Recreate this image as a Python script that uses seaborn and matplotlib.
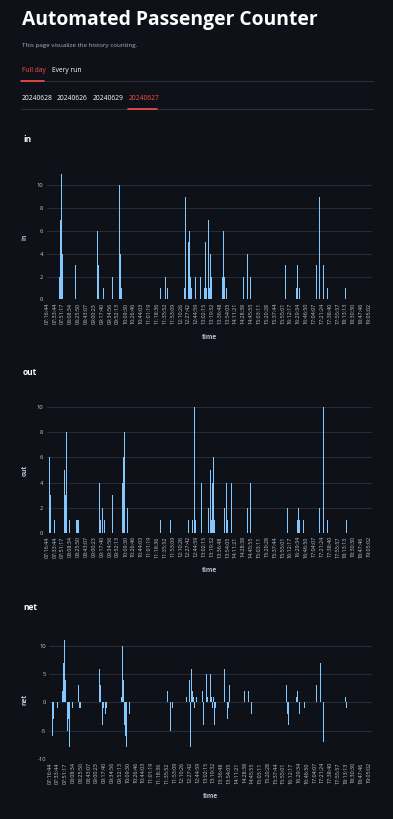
import matplotlib
matplotlib.use("Agg")
import matplotlib.pyplot as plt
import numpy as np
import pandas as pd
import seaborn as sns
from matplotlib.lines import Line2D

# passenger events (time, count)
in_times = ["07:45", "07:47", "07:49", "07:51", "08:18", "09:07", "09:09", "09:20",
            "09:41", "09:55", "09:57", "09:59", "10:01", "11:27", "11:36", "11:41",
            "11:44", "12:18", "12:20", "12:27", "12:30", "12:33", "12:35", "12:42",
            "12:55", "13:02", "13:04", "13:06", "13:13", "13:15", "13:17", "13:19",
            "13:42", "13:44", "13:46", "13:50", "13:54", "14:28", "14:36", "14:45",
            "16:00", "16:24", "16:26", "16:33", "17:09", "17:16", "17:25", "17:32",
            "17:34", "18:12"]
in_vals = [2, 7, 11, 4, 3, 6, 3, 1,
           2, 1, 10, 4, 1, 1, 2, 1,
           1, 1, 9, 5, 6, 2, 1, 2,
           2, 1, 5, 1, 7, 1, 4, 2,
           2, 6, 2, 1, 5, 2, 4, 2,
           3, 1, 3, 1, 3, 9, 3, 1,
           1, 1]

out_times = ["07:22", "07:25", "07:32", "07:54", "07:56", "07:59", "08:07", "08:21",
             "08:23", "08:25", "09:13", "09:15", "09:19", "09:22", "09:41", "10:02",
             "10:04", "10:07", "10:13", "11:27", "11:45", "11:48", "12:26", "12:29",
             "12:37", "12:40", "12:42", "12:56", "13:13", "13:17", "13:19", "13:21",
             "13:23", "13:25", "13:47", "13:51", "13:53", "13:55", "14:02", "14:36",
             "14:45", "16:05", "16:07", "16:26", "16:30", "16:33", "16:41", "17:16",
             "17:25", "17:32", "17:34", "18:14"]
out_vals = [6, 3, 1, 5, 3, 8, 1, 1,
            1, 1, 4, 1, 2, 1, 3, 4,
            6, 8, 2, 1, 6, 1, 1, 8,
            1, 10, 1, 4, 2, 5, 1, 4,
            6, 1, 2, 4, 1, 2, 4, 2,
            4, 2, 4, 1, 2, 1, 1, 2,
            10, 1, 1, 1]

tick_labels = ["07:16:44", "07:33:44", "07:51:17", "08:08:34", "08:25:50", "08:43:07",
               "09:00:23", "09:17:40", "09:34:56", "09:52:13", "10:09:30", "10:26:46",
               "10:44:03", "11:01:19", "11:18:36", "11:35:52", "11:53:09", "12:10:26",
               "12:27:42", "12:44:59", "13:02:15", "13:19:32", "13:36:48", "13:54:05",
               "14:11:21", "14:28:38", "14:45:55", "15:03:11", "15:20:28", "15:37:44",
               "15:55:01", "16:12:17", "16:29:34", "16:46:50", "17:04:07", "17:21:24",
               "17:38:40", "17:55:57", "18:13:13", "18:30:30", "18:47:46", "19:05:02"]

tabs = ["Full day", "Every run"]
dates = ["20240628", "20240626", "20240629", "20240627"]

BG = "#0e1117"
BAR = "#83c9ff"
GRID = "#262a33"
TICK = "#c3c7cf"
RED = "#ff4b4b"
W, H = 393, 819

sns.set_theme(style="dark")
plt.rcParams["font.family"] = ["Open Sans", "DejaVu Sans"]


def to_min(labels):
    t = pd.to_timedelta([s if s.count(":") == 2 else s + ":00" for s in labels])
    return t.total_seconds().to_numpy() / 60.0


fig = plt.figure(figsize=(W / 100, H / 100), dpi=100, facecolor=BG)


def px_axes(left, top, right, bottom):
    return fig.add_axes([left / W, 1 - bottom / H, (right - left) / W, (bottom - top) / H])


def fx(x):
    return x / W


def fy(y):
    return 1 - y / H


# page header
fig.text(fx(22), fy(20), "Automated Passenger Counter", fontsize=13.9, weight="bold",
         color="white", va="center")
fig.text(fx(22), fy(45), "This page visualize the history counting.", fontsize=4.5,
         color="#a9b0bd", va="center")

for label, x, col in zip(tabs, [22, 52], [RED, "white"]):
    fig.text(fx(x), fy(70), label, fontsize=4.8, color=col, va="center")
fig.add_artist(Line2D([fx(21), fx(373)], [fy(80.5)] * 2, color="#2b2e37", lw=0.8))
fig.add_artist(Line2D([fx(21), fx(44)], [fy(80.5)] * 2, color=RED, lw=1.2))

for label, x in zip(dates, [22, 57, 93, 129]):
    col = RED if label == "20240627" else "white"
    fig.text(fx(x), fy(98.5), label, fontsize=4.8, color=col, va="center")
fig.add_artist(Line2D([fx(21), fx(373)], [fy(109)] * 2, color="#2b2e37", lw=0.8))
fig.add_artist(Line2D([fx(128), fx(157)], [fy(109)] * 2, color=RED, lw=1.2))


def draw_chart(name, times, vals, box, ylim, yticks, title_y):
    left, top, right, bottom = box
    ax = px_axes(left, top, right, bottom)
    ax.set_facecolor(BG)
    sns.histplot(x=to_min(times), weights=vals, binwidth=2, binrange=(434, 1152),
                 color=BAR, alpha=1, linewidth=0, edgecolor="none", ax=ax)
    ticks = to_min(tick_labels)
    step = (ticks[-1] - ticks[0]) / (len(ticks) - 1)
    ax.set_xlim(ticks[0] - 1.2, ticks[-1] + step * 0.39)
    ax.set_ylim(*ylim)
    ax.set_yticks(yticks)
    ax.set_yticklabels([str(v) for v in yticks], fontsize=4.2, color=TICK)
    ax.set_xticks(ticks)
    ax.set_xticklabels(tick_labels, rotation=90, fontsize=3.9, color=TICK)
    ax.tick_params(length=0, pad=2.5)
    ax.grid(axis="y", color=GRID, lw=0.8)
    ax.grid(axis="x", visible=False)
    ax.set_axisbelow(True)
    for s in ax.spines.values():
        s.set_visible(False)
    ax.set_xlabel("time", fontsize=4.8, color="#b9c6d4", weight="bold")
    ax.set_ylabel(name, fontsize=4.8, color="#b9c6d4", weight="bold")
    ax.xaxis.set_label_coords(0.5, -33 / (bottom - top) - 0.01)
    ax.yaxis.set_label_coords((29 - left) / (right - left), 0.5)
    fig.text(fx(23), fy(title_y), name, fontsize=6, weight="bold", color="white", va="center")
    return ax


draw_chart("in", in_times, in_vals, (46.5, 174, 372, 299.3), (0, 11),
           [0, 2, 4, 6, 8, 10], 140)
draw_chart("out", out_times, out_vals, (46.5, 407.3, 372, 532.7), (0, 10),
           [0, 2, 4, 6, 8, 10], 373)

# net = in - out, summed per bin by the histogram
net_times = in_times + out_times
net_vals = in_vals + [-v for v in out_vals]
draw_chart("net", net_times, net_vals, (49.5, 640.4, 372, 758.7), (-10, 11),
           [-10, -5, 0, 5, 10], 607)

fig.savefig("out.png", dpi=100, facecolor=BG)
